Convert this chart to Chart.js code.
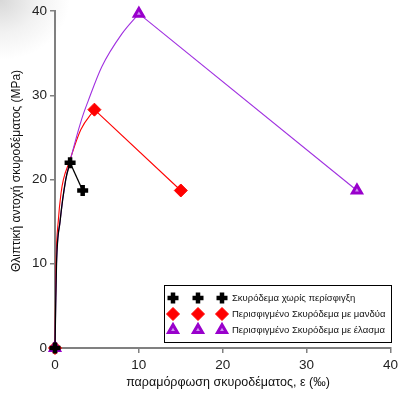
<!DOCTYPE html>
<html><head><meta charset="utf-8">
<script src="https://cdn.jsdelivr.net/npm/chart.js@4/dist/chart.umd.min.js"></script>
<style>
html,body{margin:0;padding:0;overflow:hidden;}
body{width:398px;height:395px;background:radial-gradient(ellipse 70px 60px at 0 0,#d8d8d8 0%,#f2f2f2 55%,#ffffff 100%);}
#wrap{position:relative;width:398px;height:395px;overflow:hidden;}
#c{position:absolute;left:0;top:0;}
</style></head>
<body><div id="wrap"><canvas id="c" width="402" height="395"></canvas></div>
<script>
// Series labels
const seriesNames = ["Σκυρόδεμα χωρίς περίσφιγξη", "Περισφιγμένο Σκυρόδεμα με μανδύα", "Περισφιγμένο Σκυρόδεμα με έλασμα"];
// Ascending (curved) branches: strain (‰), stress (MPa)
const blackUpStrain = [0, 0.08, 0.18, 0.6, 1.28, 1.8];
const blackUpStress = [0, 5, 10, 15, 20, 22];
const redUpStrain = [0, 0.05, 0.12, 0.4, 0.72, 1.0, 1.67, 3.07, 4.7];
const redUpStress = [0, 5, 10, 15.2, 18.4, 20, 22, 25.9, 28.3];
const purpleUpStrain = [0, 0.08, 0.18, 0.6, 1.28, 1.75, 3.19, 3.98, 5.58, 7.97, 10];
const purpleUpStress = [0, 5, 10, 15, 20, 22, 27.2, 29.4, 33.4, 37.3, 39.7];
// Descending (straight) branches
const blackDownStrain = [1.8, 3.3];
const blackDownStress = [22, 18.7];
const redDownStrain = [4.7, 15];
const redDownStress = [28.3, 18.7];
const purpleDownStrain = [10, 36];
const purpleDownStress = [39.7, 18.7];
// Axis ticks
const xTicks = [0, 10, 20, 30, 40];
const yTicks = [0, 10, 20, 30, 40];
const xTitle = "παραμόρφωση σκυροδέματος, ε (‰)";
const yTitle = "Θλιπτική αντοχή σκυροδέματος (MPa)";

const pts = (xs, ys) => xs.map((x, i) => ({x: x, y: ys[i]}));
const BLACK = "#000000", RED = "#ff0000", PURPLE = "#9900cc";
const markers = [
  {pointStyle: "cross", radius: 5.5, borderWidth: 4.5, color: BLACK, bg: BLACK},
  {pointStyle: "rectRot", radius: 6.5, borderWidth: 1, color: RED, bg: RED},
  {pointStyle: "triangle", radius: 5.2, borderWidth: 3, color: PURPLE, bg: "#d090f0"}
];
const upData = [pts(blackUpStrain, blackUpStress), pts(redUpStrain, redUpStress), pts(purpleUpStrain, purpleUpStress)];
const downData = [pts(blackDownStrain, blackDownStress), pts(redDownStrain, redDownStress), pts(purpleDownStrain, purpleDownStress)];
const lineColors = [BLACK, RED, "#a030e0"];
const lineWidths = [1.3, 1.1, 1.1];

const datasets = [];
[0, 2, 1].forEach(i => {
  const m = markers[i];
  datasets.push({
    label: seriesNames[i], data: downData[i], showLine: true,
    borderColor: lineColors[i], borderWidth: lineWidths[i], tension: 0,
    pointStyle: m.pointStyle, pointRadius: m.radius,
    pointBorderWidth: m.borderWidth, pointBorderColor: m.color, pointBackgroundColor: m.bg,
    pointHoverRadius: m.radius, clip: false
  });
  datasets.push({
    label: seriesNames[i] + " up", data: upData[i], showLine: true,
    borderColor: lineColors[i], borderWidth: lineWidths[i], cubicInterpolationMode: "monotone",
    pointStyle: m.pointStyle, pointRadius: upData[i].map((_, k) => k === 0 ? m.radius : 0),
    pointBorderWidth: m.borderWidth, pointBorderColor: m.color, pointBackgroundColor: m.bg,
    pointHoverRadius: 0, clip: false
  });
});

const FONT = "'Liberation Sans', Arial, sans-serif";
const overlayPlugin = {
  id: "overlay",
  afterDraw(chart) {
    const ctx = chart.ctx;
    ctx.save();
    // axis titles
    ctx.fillStyle = "#111";
    ctx.textAlign = "center"; ctx.textBaseline = "middle";
    ctx.font = "12.5px " + FONT;
    ctx.fillText(xTitle, 228, 383);
    ctx.save();
    ctx.translate(17, 171);
    ctx.rotate(-Math.PI / 2);
    ctx.font = "12px " + FONT;
    ctx.fillText(yTitle, 0, 0);
    ctx.restore();
    // legend box
    ctx.strokeStyle = "#000"; ctx.lineWidth = 1;
    ctx.strokeRect(164.5, 285.5, 227, 57);
    ctx.font = "9.5px " + FONT;
    ctx.textBaseline = "middle"; ctx.textAlign = "left";
    const rows = [298, 314, 330];
    const xs = [173, 198, 222];
    for (let i = 0; i < 3; i++) {
      const m = markers[i];
      xs.forEach(x => {
        ctx.fillStyle = m.bg; ctx.strokeStyle = m.color; ctx.lineWidth = m.borderWidth;
        Chart.helpers.drawPoint(ctx, {pointStyle: m.pointStyle, radius: m.radius, borderWidth: m.borderWidth, rotation: 0}, x, rows[i]);
      });
      ctx.fillStyle = "#111";
      ctx.fillText(seriesNames[i], 232, rows[i] + 0.5);
    }
    ctx.restore();
  }
};

const tickFont = {family: FONT, size: 13.5};

new Chart(document.getElementById("c"), {
  type: "scatter",
  data: {datasets: datasets},
  options: {
    responsive: false, animation: false,
    layout: {autoPadding: false, padding: {top: 11, right: 8, left: 0, bottom: 0}},
    plugins: {legend: {display: false}, tooltip: {enabled: false}},
    scales: {
      x: {
        type: "linear", min: 0, max: 40,
        afterBuildTicks: s => { s.ticks = xTicks.map(v => ({value: v})); },
        afterFit: s => { s.height = 47; },
        ticks: {font: tickFont, color: "#222", padding: 4},
        grid: {drawOnChartArea: false, drawTicks: true, tickLength: 5, color: "#808080", lineWidth: 1.5},
        border: {display: true, color: "#808080", width: 2},
        title: {display: false}
      },
      y: {
        type: "linear", min: 0, max: 40,
        afterBuildTicks: s => { s.ticks = yTicks.map(v => ({value: v})); },
        afterFit: s => { s.width = 55; },
        ticks: {font: tickFont, color: "#222", padding: 3},
        grid: {drawOnChartArea: false, drawTicks: true, tickLength: 5, color: "#808080", lineWidth: 1.5},
        border: {display: true, color: "#808080", width: 2},
        title: {display: false}
      }
    }
  },
  plugins: [overlayPlugin]
});
</script>
</body></html>
